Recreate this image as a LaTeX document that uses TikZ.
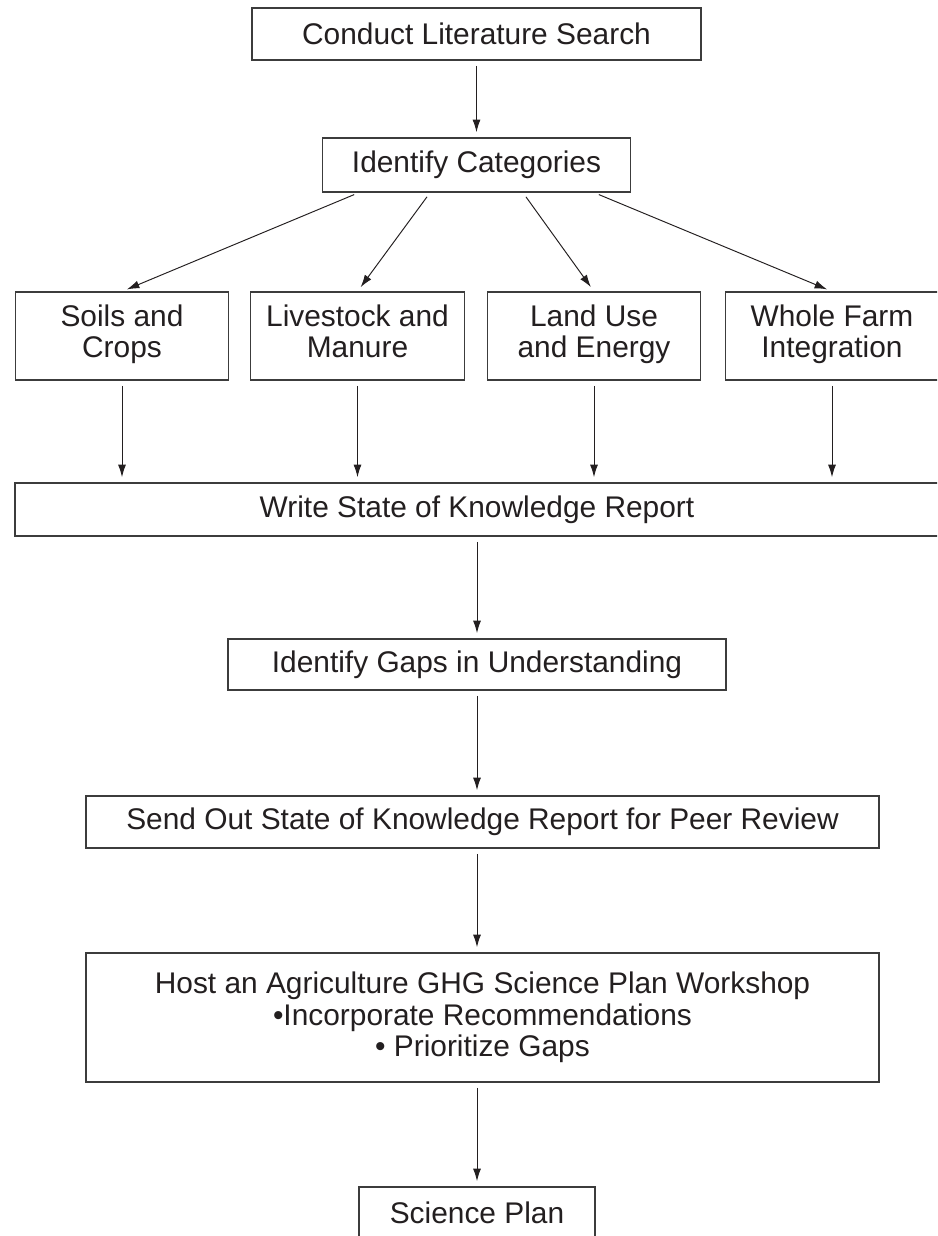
\documentclass[tikz,border=0pt]{standalone}
\usepackage{fontspec}
\setmainfont{Liberation Sans}
\usepackage{tikz}
\usetikzlibrary{arrows.meta,positioning,calc}
\definecolor{Ink}{RGB}{35,31,32}
\definecolor{Edge}{RGB}{60,60,60}
\tikzset{
  >=Latex,
  box/.style={draw=Edge,line width=.65pt,fill=white,align=center,text=Ink,font=\fontsize{17pt}{18pt}\selectfont,inner sep=0pt},
  catbox/.style={box,minimum width=4.27cm,minimum height=1.76cm,execute at begin node=\strut,execute at end node=\strut},
  flow/.style={-{Latex[length=2.5mm,width=1.6mm]},line width=.55pt,draw=Ink,shorten >=3pt,shorten <=3pt}
}
\begin{document}
\begin{tikzpicture}[x=1cm,y=1cm]
  \useasboundingbox (0,0) rectangle (18.74,-24.72);
  \clip (0,0) rectangle (18.74,-24.72);
  \node[box,minimum width=8.98cm,minimum height=1.04cm] (search) at (9.53,-.68) {Conduct Literature Search};
  \node[box,minimum width=6.16cm,minimum height=1.08cm] (cats) at (9.53,-3.30) {Identify Categories};
  \node[catbox] (soils) at (2.44,-6.72) {Soils and\\Crops};
  \node[catbox] (stock) at (7.15,-6.72) {Livestock and\\Manure};
  \node[catbox] (land) at (11.88,-6.72) {Land Use\\and Energy};
  \node[catbox] (farm) at (16.64,-6.72) {Whole Farm\\Integration};
  \node[box,minimum width=18.48cm,minimum height=1.06cm] (write) at (9.54,-10.19) {Write State of Knowledge Report};
  \node[box,minimum width=9.96cm,minimum height=1.02cm] (gaps) at (9.54,-13.29) {Identify Gaps in Understanding};
  \node[box,minimum width=15.86cm,minimum height=1.04cm] (send) at (9.65,-16.44) {Send Out State of Knowledge Report for Peer Review};
  \node[box,minimum width=15.86cm,minimum height=2.58cm] (work) at (9.65,-20.35) {Host an Agriculture GHG Science Plan Workshop\\•Incorporate Recommendations\\• Prioritize Gaps};
  \node[box,minimum width=4.72cm,minimum height=1.04cm] (plan) at (9.54,-24.26) {Science Plan};
  \coordinate (c1) at ($(cats.south west)!.12!(cats.south east)$);
  \coordinate (c2) at ($(cats.south west)!.35!(cats.south east)$);
  \coordinate (c3) at ($(cats.south west)!.65!(cats.south east)$);
  \coordinate (c4) at ($(cats.south west)!.88!(cats.south east)$);
  \draw[flow] (search) -- (cats);
  \draw[flow] (c1) -- (soils.north);
  \draw[flow] (c2) -- (stock.north);
  \draw[flow] (c3) -- (land.north);
  \draw[flow] (c4) -- (farm.north);
  \draw[flow] (soils) -- (soils |- write.north);
  \draw[flow] (stock) -- (stock |- write.north);
  \draw[flow] (land) -- (land |- write.north);
  \draw[flow] (farm) -- (farm |- write.north);
  \draw[flow] (write) -- (gaps);
  \draw[flow] (gaps) -- (gaps |- send.north);
  \draw[flow] (gaps |- send.south) -- (gaps |- work.north);
  \draw[flow] (work.south -| plan) -- (plan);
\end{tikzpicture}
\end{document}
